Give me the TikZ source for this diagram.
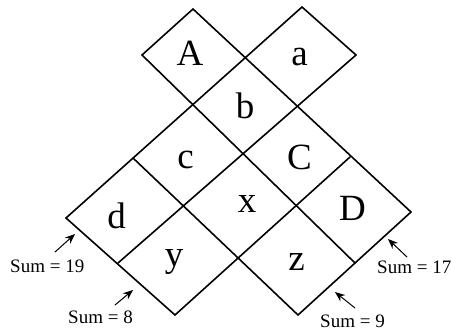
\documentclass[tikz,border=0pt]{standalone}
\usepackage{fontspec}
\setmainfont{Liberation Serif}
\usetikzlibrary{arrows.meta}
\begin{document}
\begin{tikzpicture}[x=1pt, y=-1pt, line join=round, line cap=round,
	gridline/.style={line width=1.6pt},
	cell/.style={anchor=base, inner sep=0pt, font=\fontsize{37}{40}\selectfont},
	sumlbl/.style={anchor=base west, inner sep=0pt, font=\fontsize{19}{22}\selectfont},
	sumarrow/.style={-{Stealth[length=10pt,width=8pt]}, line width=1pt}]
	\useasboundingbox (0,0) rectangle (451,333);
	
	% corners of the board
	\coordinate (p00) at (142,55);  \coordinate (p01) at (193,9);
	\coordinate (p12) at (302,7);   \coordinate (p22) at (356,55);
	\coordinate (p1m2) at (66,218); \coordinate (p1m1) at (133,158);
	\coordinate (p2m2) at (118,263);\coordinate (p3m2) at (175,315);
	\coordinate (p4m1) at (298,315);\coordinate (p40) at (355,263);
	\coordinate (p41) at (411,212); \coordinate (p31) at (350,157);
	
	\foreach \a/\b in {p00/p01, p1m2/p12, p2m2/p22, p3m2/p31, p4m1/p41,
		p12/p22, p01/p41, p00/p40, p1m1/p4m1, p1m2/p3m2}
		\draw[gridline] (\a)--(\b);
	
	% letters
	\node[cell] (cA) at (190,65) {A};
	\node[cell] (ca) at (299.5,65) {a};
	\node[cell] (cb) at (245,118) {b};
	\node[cell] (cc) at (185.5,168) {c};
	\node[cell] (cC) at (299.5,169) {C};
	\node[cell] (cd) at (116.5,228) {d};
	\node[cell] (cx) at (247,212) {x};
	\node[cell] (cD) at (352.5,220) {D};
	\node[cell] (cy) at (174,266) {y};
	\node[cell] (cz) at (296.5,270) {z};
	
	% sums
	\node[sumlbl] (s19) at (10,272) {Sum = 19};
	\node[sumlbl] (s8) at (68,323) {Sum = 8};
	\node[sumlbl] (s17) at (377,273) {Sum = 17};
	\node[sumlbl] (s9) at (320,327) {Sum = 9};
	
	\coordinate (t19) at (55,252);  \coordinate (h19) at (75,234);
	\coordinate (t8) at (115,305);  \coordinate (h8) at (133,290);
	\coordinate (t17) at (407,257); \coordinate (h17) at (388,239);
	\coordinate (t9) at (355,308);  \coordinate (h9) at (335,292);
	\foreach \k in {19,8,17,9}
		\draw[sumarrow] (t\k)--(h\k);
\end{tikzpicture}
\end{document}
